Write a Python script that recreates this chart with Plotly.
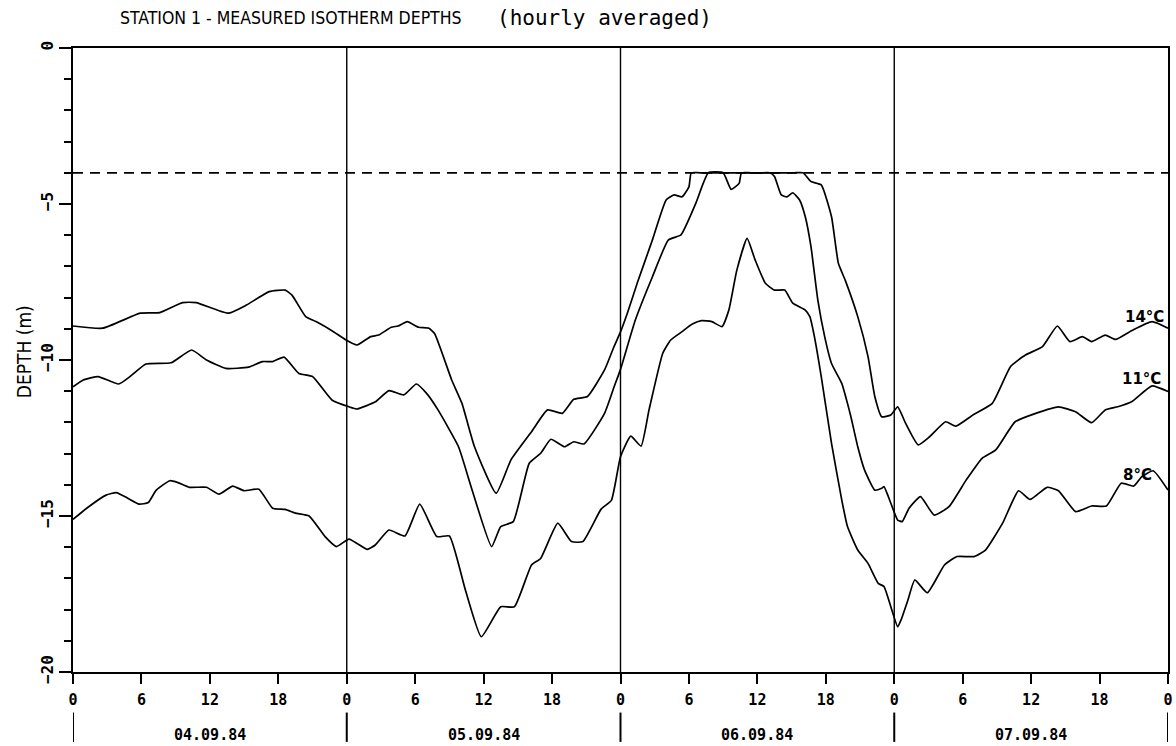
import plotly.graph_objects as go

# ---------------- data ----------------
hours_14 = [0, 2.6, 5.9, 7.6, 9.6, 10.8, 13.6, 15.2, 17.2, 18.6, 19.2, 20.4, 21.3, 22.7, 23.9,
            24.9, 26.1, 26.8, 27.9, 28.5, 29.3, 30.3, 31.2, 31.7, 33.2, 34.1, 35.2, 37.1, 38.4,
            40.2, 41.6, 42.9, 43.9, 45.1, 46.6, 47.4, 48.0, 48.6, 49.5, 50.8, 52.0, 52.7, 53.4,
            54.0, 54.2, 55.0, 63.2, 64.0, 64.7, 65.6, 66.5, 67.1, 67.7, 68.8, 69.7, 70.3, 70.9,
            71.7, 72.3, 73.0, 74.1, 75.1, 76.5, 77.4, 78.9, 80.6, 82.2, 83.5, 85.0, 86.3, 87.4,
            88.5, 89.3, 90.5, 91.4, 92.8, 94.6, 96]
depth_14 = [-8.91, -8.98, -8.50, -8.48, -8.16, -8.16, -8.50, -8.24, -7.81, -7.76, -7.92, -8.61,
            -8.77, -9.06, -9.35, -9.52, -9.25, -9.20, -8.95, -8.91, -8.77, -8.95, -8.98, -9.15,
            -10.64, -11.39, -12.78, -14.27, -13.2, -12.3, -11.6, -11.71, -11.26, -11.17, -10.32,
            -9.6, -9.1, -8.5, -7.5, -6.15, -4.87, -4.71, -4.77, -4.45, -4.0, -4.0, -4.0, -4.0,
            -4.28, -4.39, -5.41, -6.9, -7.44, -8.61, -9.89, -11.18, -11.82, -11.76, -11.5,
            -12.03, -12.72, -12.46, -11.98, -12.12, -11.76, -11.39, -10.21, -9.84, -9.57, -8.91,
            -9.41, -9.25, -9.41, -9.2, -9.34, -9.06, -8.77, -8.98]

hours_11 = [0, 0.9, 2.2, 4.0, 5.0, 6.4, 8.6, 10.4, 11.7, 13.4, 15.4, 16.6, 17.5, 18.5, 19.8,
            21.0, 22.7, 24.2, 24.9, 26.5, 27.7, 29.0, 30.1, 31.0, 32.0, 33.8, 34.9, 36.7, 37.5,
            38.6, 40.0, 41.0, 41.9, 43.1, 43.9, 44.8, 46.6, 47.4, 48.0, 49.3, 50.8, 52.2, 53.3,
            54.6, 55.7, 57.0, 57.7, 58.4, 58.6, 59.4, 60.3, 61.1, 61.5, 62.1, 62.6, 63.1, 63.7,
            64.2, 64.7, 65.3, 65.9, 66.5, 67.4, 67.9, 68.2, 68.8, 69.4, 70.3, 70.9, 71.1, 71.7,
            72.3, 72.7, 73.3, 74.3, 75.5, 76.8, 78.3, 79.7, 80.9, 82.6, 84.4, 86.4, 87.9, 89.3,
            90.5, 91.6, 92.8, 94.6, 96]
depth_11 = [-10.86, -10.64, -10.53, -10.77, -10.53, -10.13, -10.09, -9.68, -10.0, -10.27,
            -10.23, -10.05, -10.05, -9.91, -10.43, -10.53, -11.28, -11.5, -11.57, -11.34,
            -10.98, -11.12, -10.77, -11.07, -11.6, -12.78, -14.06, -15.98, -15.34, -15.18,
            -13.31, -12.99, -12.54, -12.78, -12.62, -12.69, -11.71, -10.9, -10.3, -8.72, -7.33,
            -6.15, -5.99, -4.98, -4.0, -4.0, -4.53, -4.34, -4.0, -4.0, -4.0, -4.0, -4.12, -4.71,
            -4.77, -4.64, -4.87, -5.41, -6.37, -8.08, -9.25, -10.11, -10.75, -11.39, -11.82,
            -12.78, -13.53, -14.17, -14.11, -14.06, -14.59, -15.13, -15.18, -14.75, -14.38,
            -14.97, -14.7, -13.85, -13.15, -12.88, -11.98, -11.71, -11.5, -11.66, -12.01, -11.6,
            -11.5, -11.34, -10.83, -11.01]

hours_8 = [0, 1.2, 2.9, 3.8, 4.8, 5.8, 6.6, 7.3, 8.5, 9.2, 10.2, 11.7, 12.8, 14.0, 15.0, 16.3,
           17.5, 18.6, 19.5, 20.7, 22.1, 23.1, 24.2, 25.8, 26.5, 27.7, 29.1, 30.4, 31.9, 33.0,
           34.4, 35.8, 37.5, 38.7, 40.2, 41.0, 42.5, 43.7, 44.7, 46.3, 47.2, 48.0, 48.9, 49.8,
           50.5, 51.7, 52.4, 53.4, 54.3, 55.1, 56.0, 56.9, 57.5, 58.2, 59.1, 59.8, 60.7, 61.5,
           62.4, 63.1, 64.2, 64.6, 65.0, 65.6, 66.5, 67.4, 67.9, 68.8, 69.7, 70.6, 71.1, 71.7,
           72.3, 72.6, 73.2, 73.8, 74.9, 76.4, 77.5, 79.0, 80.0, 81.5, 82.9, 83.9, 85.4, 86.4,
           87.9, 89.3, 90.6, 91.9, 93.0, 93.7, 94.7, 96]
depth_8 = [-15.11, -14.75, -14.33, -14.25, -14.43, -14.62, -14.57, -14.17, -13.87, -13.93,
           -14.08, -14.08, -14.3, -14.04, -14.19, -14.14, -14.75, -14.79, -14.91, -15.0, -15.66,
           -15.98, -15.74, -16.07, -15.93, -15.45, -15.64, -14.62, -15.66, -15.64, -17.37,
           -18.87, -17.91, -17.91, -16.57, -16.36, -15.23, -15.82, -15.82, -14.78, -14.5,
           -13.1, -12.44, -12.76, -11.6, -9.79, -9.36, -9.09, -8.85, -8.74, -8.77, -8.93, -8.4,
           -7.12, -6.1, -6.79, -7.54, -7.76, -7.76, -8.18, -8.4, -8.61, -9.25, -10.53, -12.67,
           -14.49, -15.34, -16.09, -16.52, -17.16, -17.26, -17.91, -18.55, -18.33, -17.69,
           -17.05, -17.46, -16.57, -16.3, -16.3, -16.09, -15.23, -14.19, -14.47, -14.08, -14.19,
           -14.86, -14.68, -14.68, -13.95, -14.04, -13.74, -13.55, -14.17]

series_names = ["14°C", "11°C", "8°C"]
hour_ticks = [0, 6, 12, 18, 24, 30, 36, 42, 48, 54, 60, 66, 72, 78, 84, 90, 96]
hour_labels = ["0", "6", "12", "18"] * 4 + ["0"]
depth_ticks = [0, -5, -10, -15, -20]
day_bounds = [0, 24, 48, 72, 96]
day_labels = ["04.09.84", "05.09.84", "06.09.84", "07.09.84"]
surface_limit = -4

# ---------------- figure ----------------
MONO = "DejaVu Sans Mono"
NARROW = "DejaVu Sans Condensed, Liberation Sans Narrow, sans-serif"

fig = go.Figure()
for h, d, name in zip([hours_14, hours_11, hours_8], [depth_14, depth_11, depth_8], series_names):
    fig.add_trace(go.Scatter(x=h, y=d, mode="lines", name=name,
                             line=dict(color="black", width=1.7, shape="spline", smoothing=0.45),
                             showlegend=False, hoverinfo="x+y+name"))

# day separator lines inside plot
for b in day_bounds[1:-1]:
    fig.add_shape(type="line", xref="x", yref="y", x0=b, x1=b, y0=-20, y1=0,
                  line=dict(color="black", width=1.4), layer="below")
# dashed line at -4 m
fig.add_shape(type="line", xref="x", yref="y", x0=0, x1=96, y0=surface_limit, y1=surface_limit,
              line=dict(color="black", width=1.8, dash="10px,7px"), layer="below")
# day bars below axis
for b in day_bounds:
    fig.add_shape(type="line", xref="x", yref="paper", x0=b, x1=b, y0=-0.065, y1=-0.112,
                  line=dict(color="black", width=2))
# date labels
for i, lab in enumerate(day_labels):
    fig.add_annotation(x=day_bounds[i] + 12, y=-0.101, xref="x", yref="paper", text=lab,
                       showarrow=False, yanchor="middle", xanchor="center",
                       font=dict(family=MONO, size=15, color="black", weight="bold"))

# isotherm labels
label_pos = [(95.8, -8.63), (95.6, -10.62), (94.8, -13.7)]
for (lx, ly), name in zip(label_pos, series_names):
    fig.add_annotation(x=lx, y=ly, xref="x", yref="y", text=name, showarrow=False,
                       xanchor="right", yanchor="middle",
                       font=dict(family="DejaVu Sans", size=15, color="black", weight="bold"))

# title parts
fig.add_annotation(x=(118 - 73) / 1100, y=1 + 30 / 624, xref="paper", yref="paper",
                   text="STATION 1 - MEASURED ISOTHERM DEPTHS", showarrow=False,
                   xanchor="left", yanchor="middle",
                   font=dict(family=NARROW, size=17.5, color="black"))
fig.add_annotation(x=(497 - 73) / 1100, y=1 + 30 / 624, xref="paper", yref="paper",
                   text="(hourly averaged)", showarrow=False,
                   xanchor="left", yanchor="middle",
                   font=dict(family=MONO, size=21, color="black"))
# y axis title
fig.add_annotation(x=(24 - 73) / 1100, y=(672 - 352) / 624, xref="paper", yref="paper",
                   text="DEPTH (m)", showarrow=False, textangle=-90,
                   xanchor="center", yanchor="middle",
                   font=dict(family=NARROW, size=19, color="black"))

fig.update_layout(
    width=1176, height=746,
    margin=dict(l=73, r=3, t=48, b=74),
    paper_bgcolor="white", plot_bgcolor="white",
    xaxis=dict(range=[0, 96], showgrid=False, zeroline=False, showline=True, mirror=True,
               linecolor="black", linewidth=2, ticks="outside", ticklen=10, tickwidth=2,
               tickcolor="black", tickvals=hour_ticks, ticktext=hour_labels,
               ticklabelstandoff=3,
               tickfont=dict(family=MONO, size=15, color="black", weight="bold")),
    yaxis=dict(range=[-20, 0], showgrid=False, zeroline=False, showline=True, mirror=True,
               linecolor="black", linewidth=2, ticks="outside", ticklen=12, tickwidth=2,
               tickcolor="black", tickvals=depth_ticks, tickangle=-90,
               tickfont=dict(family=MONO, size=16, color="black", weight="bold"),
               minor=dict(dtick=1, ticks="outside", ticklen=7, tickwidth=1.6, tickcolor="black")),
)

fig.write_html("out.html")
